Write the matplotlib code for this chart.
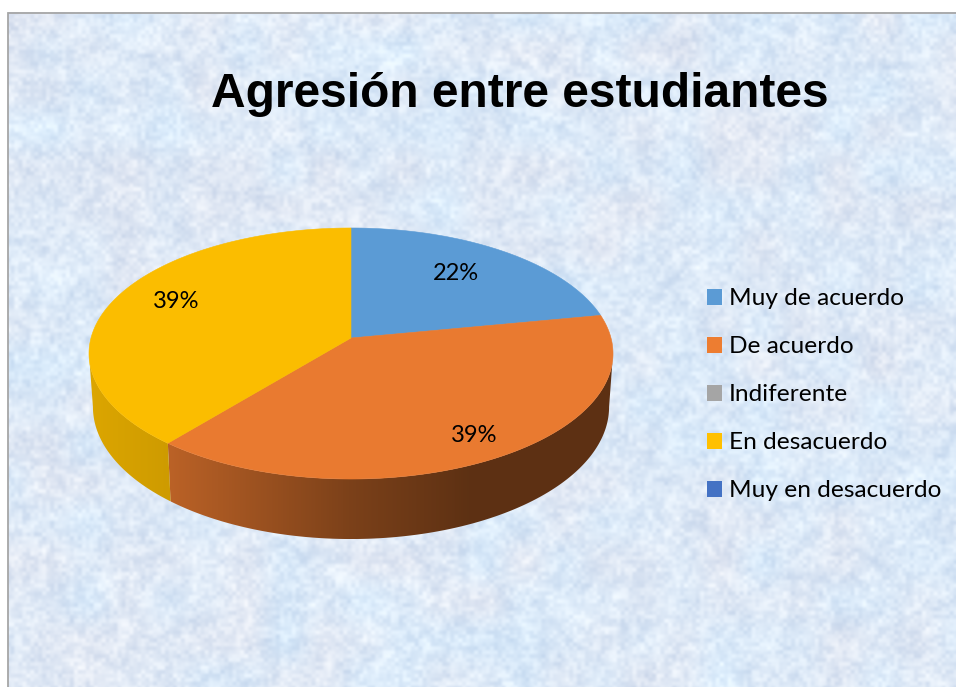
import numpy as np
import matplotlib
matplotlib.use("Agg")
import matplotlib.pyplot as plt
from matplotlib.patches import Patch, Polygon
from matplotlib.colors import to_rgb

# ---- data ----
categories = ["Muy de acuerdo", "De acuerdo", "Indiferente", "En desacuerdo", "Muy en desacuerdo"]
values = [22, 39, 0, 39, 0]
colors = ["#5B9BD5", "#E97A30", "#A5A5A5", "#FBBD00", "#4472C4"]
legend_colors = ["#5B9BD5", "#ED7D31", "#A5A5A5", "#FFC000", "#4472C4"]
title = "Agresión entre estudiantes"
pct_labels = ["22%", "39%", "39%"]

# ---- layout (pixels) ----
W, H = 956, 687
CX, CY = 351.0, 338.0
A, B, K = 260.0, 123.6, 0.1235
DEPTH = 52.6
BOTTOM_SCALE = 0.985

fig = plt.figure(figsize=(W / 100, H / 100), dpi=100, facecolor="white")
ax = fig.add_axes([0, 0, 1, 1])
ax.axis("off")


# ---- paper-like background: hashed grid, smoothly enlarged ----
def grain(cell, salt):
    nx, ny = W // cell + 3, H // cell + 3
    gy, gx = np.mgrid[0:ny, 0:nx]
    h = np.sin((gx + salt) * 12.9898 + (gy + salt * 2) * 78.233) * 43758.5453
    h = h - np.floor(h) - 0.5
    xs = np.linspace(0, W / cell, W - 9)
    ys = np.linspace(0, H / cell, H - 13)
    ix, fx = np.floor(xs).astype(int), xs - np.floor(xs)
    iy, fy = np.floor(ys).astype(int), ys - np.floor(ys)
    fx = fx * fx * (3 - 2 * fx)
    fy = fy * fy * (3 - 2 * fy)
    top = h[iy][:, ix] * (1 - fx) + h[iy][:, ix + 1] * fx
    bot = h[iy + 1][:, ix] * (1 - fx) + h[iy + 1][:, ix + 1] * fx
    out = top * (1 - fy)[:, None] + bot * fy[:, None]
    return out / out.std()


tex = 0.6 * grain(4, 1.0) + 0.55 * grain(9, 2.0) + 0.3 * grain(24, 3.0)
tint = grain(40, 4.0)
base = np.array([221, 233, 247], dtype=float)
img = base + tex[..., None] * np.array([7.5, 6.0, 3.5]) + tint[..., None] * np.array([-2.0, 0.5, 1.5])
img = np.clip(img, 0, 255) / 255
ax.imshow(img, extent=(8.5, W, H, 12.5), interpolation="bilinear", aspect="auto", zorder=0)
ax.plot([8.5, 8.5, W], [H, 12.5, 12.5], color="#A6A6A6", lw=1.3, zorder=1, solid_joinstyle="miter")


def project(t):
    """Angle clockwise from the top of the disc -> picture position of the rim."""
    u, v = np.sin(t), np.cos(t)
    den = 1 + K * v
    return CX + A * u / den, CY - B * v / den


def lower(t):
    u, v = np.sin(t), np.cos(t)
    den = 1 + K * v
    return CX + BOTTOM_SCALE * A * u / den, CY + (-B * v + DEPTH) / den


def wall_factor(x, name):
    if name == "De acuerdo":
        return np.interp(x, [170, 350, 470, 620], [0.80, 0.53, 0.40, 0.40])
    return np.interp(x, [85, 170], [0.88, 0.82])


fractions = np.array(values, dtype=float) / np.sum(values)
ends = np.cumsum(fractions) * 2 * np.pi
starts = ends - fractions * 2 * np.pi

# side walls: horizontal gradient clipped to the wall outline
for s, e, col, name in zip(starts, ends, colors, categories):
    if e <= s:
        continue
    ts = np.linspace(s, e, 400)
    ts = ts[np.cos(ts) <= -K]
    if ts.size < 2:
        continue
    xt, yt = project(ts)
    xb, yb = lower(ts)
    outline = np.c_[np.r_[xt, xb[::-1]], np.r_[yt, yb[::-1]]]
    x0, x1 = outline[:, 0].min(), outline[:, 0].max()
    y0, y1 = outline[:, 1].min(), outline[:, 1].max()
    gx = np.linspace(x0, x1, 400)
    grad = wall_factor(gx, name)[None, :, None] * np.array(to_rgb(col))[None, None, :]
    im = ax.imshow(grad, extent=(x0, x1, y1, y0), aspect="auto", zorder=2, interpolation="bilinear")
    patch = Polygon(outline, closed=True, transform=ax.transData, facecolor="none", edgecolor="none")
    ax.add_patch(patch)
    im.set_clip_path(patch)

# top faces
for s, e, col in zip(starts, ends, colors):
    if e <= s:
        continue
    ts = np.linspace(s, e, 240)
    x, y = project(ts)
    ax.fill(np.r_[CX, x], np.r_[CY, y], color=col, lw=0.4, zorder=3)

# value labels
for txt, (lx, ly) in zip(pct_labels, [(456, 273.5), (474, 436), (176, 301.5)]):
    ax.text(lx, ly, txt, ha="center", va="center", fontsize=17.0, family="Lato",
            color="black", zorder=5)

ax.text(520, 94.5, title, ha="center", va="center", fontsize=34.5, fontweight="bold",
        family="Liberation Sans", color="black", zorder=5)

handles = [Patch(facecolor=c, edgecolor="none", label=n) for c, n in zip(legend_colors, categories)]
ax.set_xlim(0, W)
ax.set_ylim(H, 0)
leg = ax.legend(handles=handles, loc="upper left", bbox_to_anchor=(700, 281),
                bbox_transform=ax.transData, frameon=False,
                prop={"family": "Lato", "size": 17.6},
                handlelength=0.62, handleheight=0.62, handletextpad=0.25,
                labelspacing=1.105, borderpad=0.3, borderaxespad=0)

fig.savefig("out.png", dpi=100, facecolor="white")
